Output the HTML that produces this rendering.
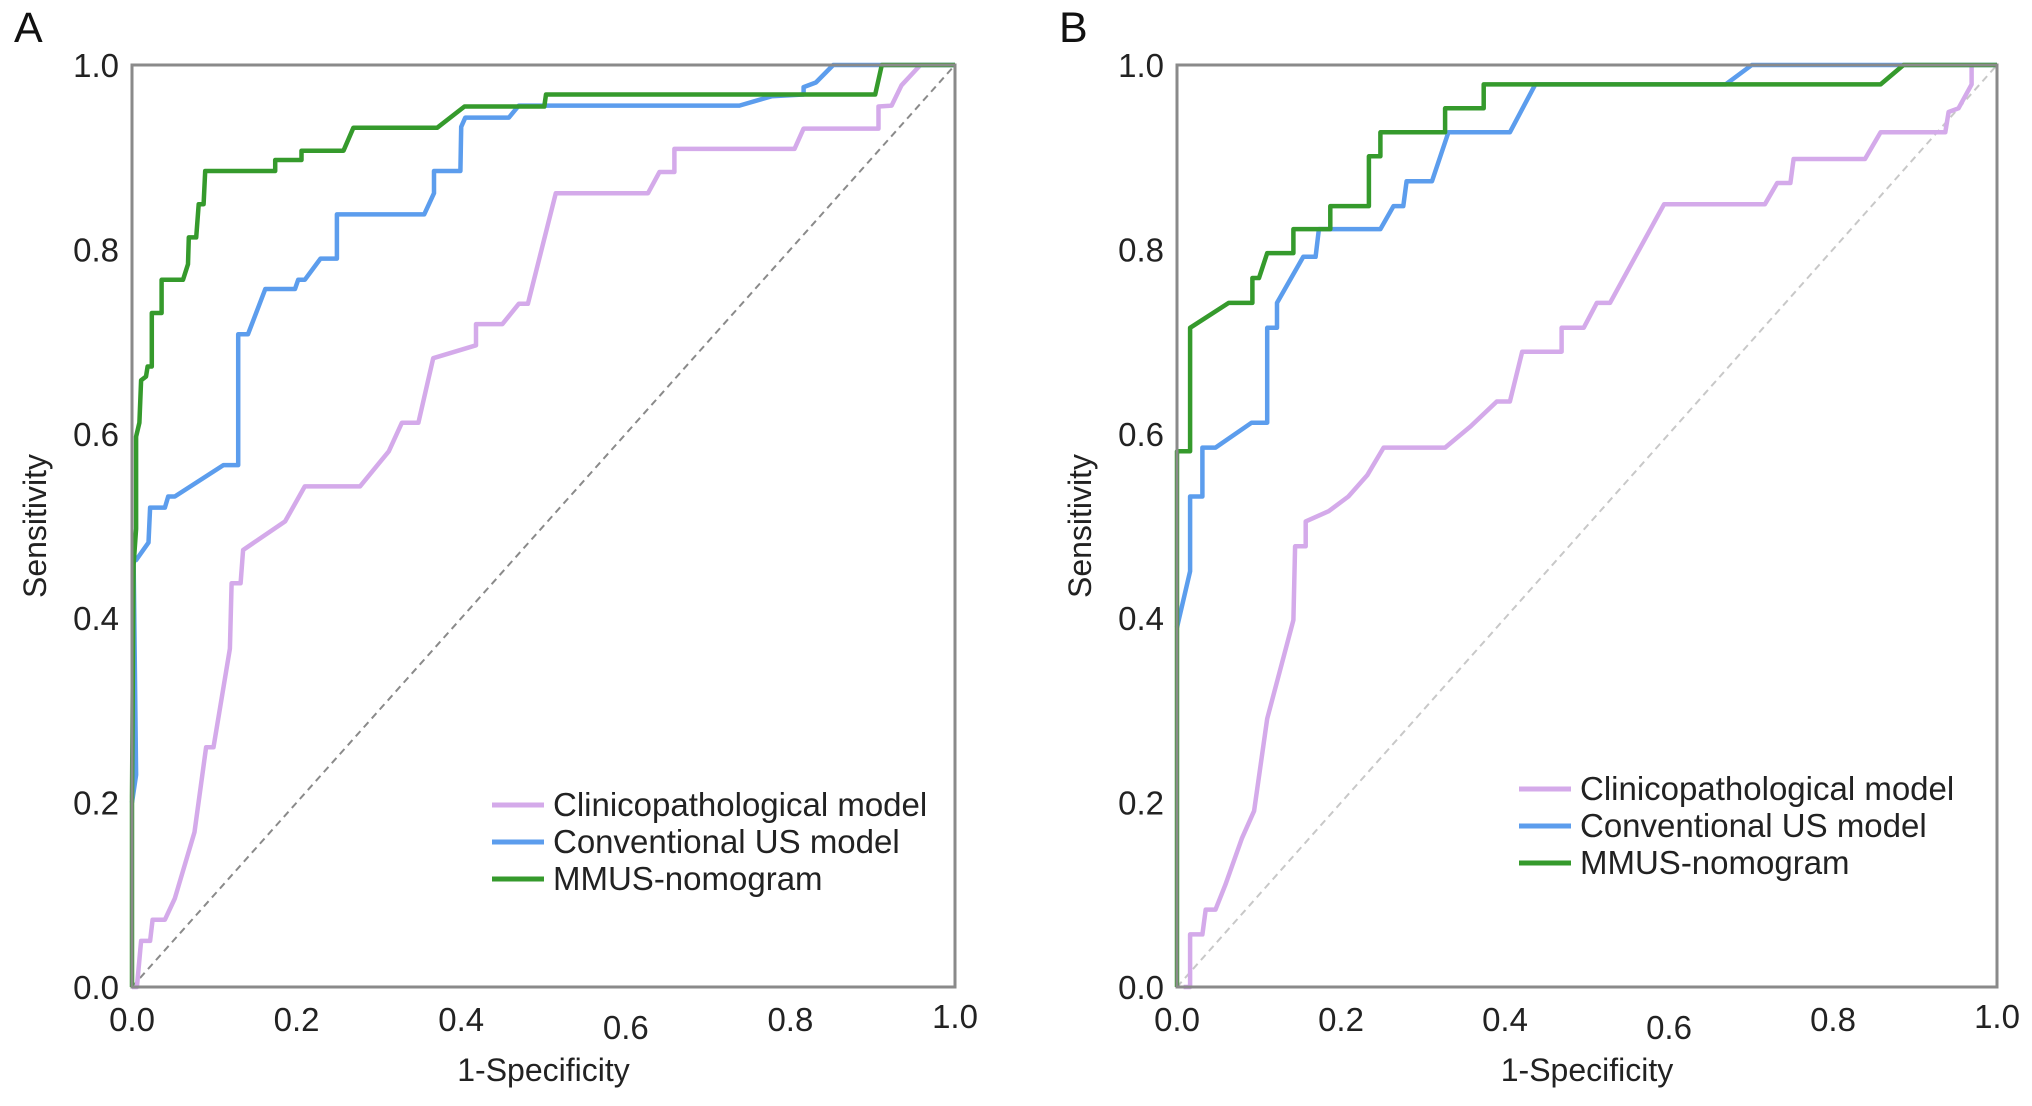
<!DOCTYPE html>
<html><head><meta charset="utf-8"><style>
html,body{margin:0;padding:0;background:#fff;}
svg{display:block;font-family:"Liberation Sans",Arial,sans-serif;}
</style></head><body>
<svg id="chart" width="2032" height="1106" viewBox="0 0 2032 1106"></svg>
<script>
const tickValues=[0,0.2,0.4,0.6,0.8,1.0];
const tickLabels=["0.0","0.2","0.4","0.6","0.8","1.0"];
const seriesNames=["Clinicopathological model","Conventional US model","MMUS-nomogram"];
// Panel A
const aClinFpr=[0,0.006,0.011,0.022,0.025,0.040,0.052,0.076,0.090,0.099,0.119,0.121,0.132,0.135,0.186,0.210,0.277,0.312,0.328,0.348,0.366,0.418,0.418,0.450,0.470,0.481,0.515,0.627,0.641,0.659,0.659,0.805,0.816,0.907,0.907,0.923,0.935,0.958,1];
const aClinTpr=[0,0,0.050,0.050,0.073,0.073,0.096,0.168,0.260,0.260,0.367,0.438,0.438,0.474,0.505,0.543,0.543,0.581,0.612,0.612,0.682,0.696,0.719,0.719,0.741,0.741,0.861,0.861,0.884,0.884,0.909,0.909,0.931,0.931,0.955,0.956,0.978,1,1];
const aUsFpr=[0,0.005,0.002,0.005,0.020,0.022,0.040,0.044,0.052,0.111,0.129,0.129,0.141,0.162,0.198,0.202,0.210,0.229,0.249,0.249,0.355,0.367,0.367,0.399,0.400,0.405,0.458,0.470,0.738,0.777,0.816,0.816,0.831,0.852,1];
const aUsTpr=[0.2,0.23,0.463,0.463,0.482,0.520,0.520,0.532,0.532,0.566,0.566,0.708,0.708,0.757,0.757,0.767,0.767,0.790,0.790,0.838,0.838,0.861,0.885,0.885,0.933,0.943,0.943,0.956,0.956,0.966,0.968,0.976,0.981,1,1];
const aMmFpr=[0,0,0.002,0.005,0.005,0.009,0.011,0.017,0.019,0.024,0.024,0.036,0.036,0.062,0.068,0.069,0.078,0.081,0.087,0.089,0.174,0.174,0.206,0.206,0.257,0.269,0.371,0.404,0.501,0.503,0.903,0.911,1];
const aMmTpr=[0,0.207,0.458,0.497,0.597,0.612,0.658,0.662,0.673,0.673,0.731,0.731,0.767,0.767,0.784,0.813,0.813,0.849,0.849,0.885,0.885,0.897,0.897,0.907,0.907,0.932,0.932,0.955,0.955,0.968,0.968,1,1];
// Panel B
const bClinFpr=[0.008,0.016,0.016,0.031,0.035,0.047,0.059,0.079,0.094,0.110,0.142,0.144,0.157,0.157,0.185,0.209,0.232,0.252,0.327,0.358,0.390,0.406,0.421,0.469,0.469,0.496,0.512,0.528,0.594,0.717,0.732,0.748,0.752,0.839,0.858,0.937,0.941,0.953,0.969,0.969];
const bClinTpr=[0,0,0.057,0.057,0.084,0.084,0.111,0.161,0.191,0.291,0.398,0.478,0.478,0.505,0.516,0.532,0.555,0.585,0.585,0.608,0.635,0.635,0.689,0.689,0.715,0.715,0.742,0.742,0.849,0.849,0.872,0.872,0.898,0.898,0.927,0.927,0.949,0.953,0.979,1];
const bUsFpr=[0,0.016,0.016,0.031,0.031,0.047,0.091,0.110,0.110,0.122,0.122,0.154,0.169,0.173,0.248,0.264,0.276,0.280,0.311,0.331,0.406,0.437,0.669,0.701,1];
const bUsTpr=[0.39,0.451,0.532,0.532,0.585,0.585,0.612,0.612,0.715,0.715,0.742,0.792,0.792,0.822,0.822,0.847,0.847,0.874,0.874,0.927,0.927,0.979,0.979,1,1];
const bMmFpr=[0,0,0.016,0.016,0.063,0.092,0.092,0.100,0.110,0.142,0.142,0.187,0.187,0.234,0.234,0.248,0.248,0.327,0.327,0.374,0.374,0.858,0.886,1];
const bMmTpr=[0,0.581,0.581,0.715,0.742,0.742,0.769,0.769,0.796,0.796,0.822,0.822,0.847,0.847,0.901,0.901,0.927,0.927,0.953,0.953,0.979,0.979,1,1];

const NS="http://www.w3.org/2000/svg";
const svg=document.getElementById('chart');
function mk(tag,attrs,parent){const e=document.createElementNS(NS,tag);for(const k in attrs)e.setAttribute(k,attrs[k]);(parent||svg).appendChild(e);return e;}
const colors=["#d4aaea","#5c9ded","#359a2c"];

function panel(id,letter,L,T,W,H,series,legX,legY,diagColor,xLabOff){
  const g=mk('g',{});
  
  
  const sx=v=>L+v*W, sy=v=>T+H-v*H;
  const lt=mk('text',{x:L-118,y:T-23,'font-size':43,fill:'#111'},g);lt.textContent=letter;
  
  
  const d=mk('line',{x1:sx(0),y1:sy(0),x2:sx(1),y2:sy(1),stroke:diagColor,'stroke-width':2,'stroke-dasharray':'7,5'},g);
  
  
  series.forEach((s,i)=>{
    const pts=s[0].map((x,j)=>sx(x).toFixed(1)+','+sy(s[1][j]).toFixed(1)).join(' ');
    const p=mk('polyline',{points:pts,fill:'none',stroke:colors[i],'stroke-width':4.5,'stroke-linejoin':'round'},g);
    
    
  });
  const fr=mk('rect',{x:L,y:T,width:W,height:H,fill:'none',stroke:'#8a8a8a','stroke-width':3},g);
  
  
  tickValues.forEach((v,i)=>{
    const ty=mk('text',{x:L-13,y:sy(v)+12,'font-size':33,'text-anchor':'end',fill:'#222'},g);ty.textContent=tickLabels[i];
    
    
    const tx=mk('text',{x:sx(v),y:T+H+44+xLabOff[i],'font-size':33,'text-anchor':'middle',fill:'#222'},g);tx.textContent=tickLabels[i];
    
    
  });
  const xt=mk('text',{x:L+W/2,y:T+H+94,'font-size':32,'text-anchor':'middle',fill:'#222'},g);xt.textContent='1-Specificity';
  
  
  const yt=mk('text',{x:0,y:0,'font-size':32,'text-anchor':'middle',fill:'#222',transform:`translate(${L-86},${T+H/2}) rotate(-90)`},g);yt.textContent='Sensitivity';
  
  
  seriesNames.forEach((n,i)=>{
    const y=legY+i*37;
    const ll=mk('line',{x1:legX,y1:y,x2:legX+52,y2:y,stroke:colors[i],'stroke-width':5},g);
    
    
    const lt2=mk('text',{x:legX+61,y:y+11,'font-size':33,fill:'#222'},g);lt2.textContent=n;
    
    
  });
}
panel('a','A',132,65,823,922,[[aClinFpr,aClinTpr],[aUsFpr,aUsTpr],[aMmFpr,aMmTpr]],492,805,'#8a8a8a',[0,0,0,8,0,-3]);
panel('b','B',1177,65,820,922,[[bClinFpr,bClinTpr],[bUsFpr,bUsTpr],[bMmFpr,bMmTpr]],1519,789,'#c8c8c8',[0,0,0,8,0,-3]);
</script>
</body></html>
